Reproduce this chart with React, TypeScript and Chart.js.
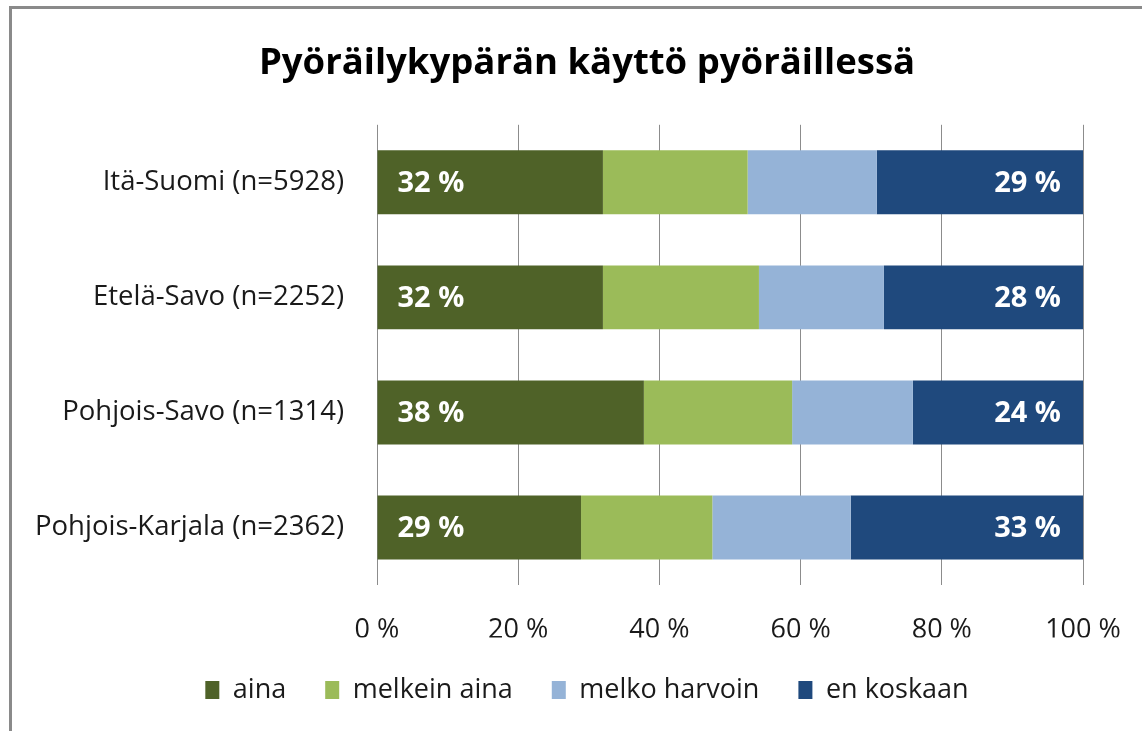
import React, { useEffect, useRef } from "react";
import { Chart, registerables } from "chart.js";

Chart.register(...registerables);

const categories = [
  "Itä-Suomi (n=5928)",
  "Etelä-Savo (n=2252)",
  "Pohjois-Savo (n=1314)",
  "Pohjois-Karjala (n=2362)",
];
const seriesNames = ["aina", "melkein aina", "melko harvoin", "en koskaan"];
const aina = [32.0, 32.0, 37.8, 28.9];
const melkeinAina = [20.5, 22.1, 21.0, 18.6];
const melkoHarvoin = [18.3, 17.7, 17.1, 19.6];
const enKoskaan = [29.2, 28.2, 24.1, 32.9];
const xTickLabels = ["0 %", "20 %", "40 %", "60 %", "80 %", "100 %"];
const colors = ["#4F6228", "#9BBB59", "#95B3D7", "#1F497D"];
const labelledSeries = [0, 3];
const title = "Pyöräilykypärän käyttö pyöräillessä";

const FONT = "'Open Sans', 'Noto Sans', sans-serif";

const barLabels = {
  id: "barLabels",
  afterDatasetsDraw(chart: any) {
    const ctx = chart.ctx;
    ctx.save();
    ctx.font = `bold 29px ${FONT}`;
    ctx.fillStyle = "#ffffff";
    ctx.textBaseline = "middle";
    labelledSeries.forEach((di) => {
      const meta = chart.getDatasetMeta(di);
      const ds = chart.data.datasets[di];
      meta.data.forEach((bar: any, i: number) => {
        const { x, y, base } = bar.getProps(["x", "y", "base"], true);
        const text = Math.round(ds.data[i]) + " %";
        if (di === 0) {
          ctx.textAlign = "left";
          ctx.fillText(text, Math.min(x, base) + 20, y + 1);
        } else {
          ctx.textAlign = "right";
          ctx.fillText(text, Math.max(x, base) - 22, y + 1);
        }
      });
    });
    ctx.restore();
  },
};

export default function App() {
  const ref = useRef<HTMLCanvasElement | null>(null);
  useEffect(() => {
    if (!ref.current) return;
    const values = [aina, melkeinAina, melkoHarvoin, enKoskaan];
    const chart = new Chart(ref.current, {
      type: "bar",
      data: {
        labels: categories,
        datasets: values.map((v, i) => ({
          label: seriesNames[i],
          data: v,
          backgroundColor: colors[i],
          borderWidth: 0,
          barPercentage: 0.556,
          categoryPercentage: 1,
        })),
      },
      options: {
        indexAxis: "y",
        responsive: false,
        animation: false,
        layout: { padding: { top: 0, left: 0, right: 0, bottom: 17.5 } },
        scales: {
          x: {
            stacked: true,
            min: 0,
            max: 100,
            ticks: {
              stepSize: 20,
              padding: 29,
              color: "#1a1a1a",
              font: { family: FONT, size: 27 },
              callback: (_v: any, idx: number) => xTickLabels[idx],
            },
            grid: { color: "#8c8c8c", lineWidth: 1, drawTicks: false },
            border: { display: false },
            afterFit: (s: any) => {
              s.height = 52.5;
            },
          },
          y: {
            stacked: true,
            ticks: {
              padding: 25,
              color: "#1a1a1a",
              font: { family: FONT, size: 27.5 },
            },
            grid: { display: false },
            border: { display: false },
            afterFit: (s: any) => {
              s.width = 365;
            },
          },
          yR: {
            type: "category",
            position: "right",
            display: true,
            ticks: { display: false },
            grid: { display: false },
            border: { display: false },
            afterFit: (s: any) => {
              s.width = 79;
            },
          },
        },
        plugins: {
          title: {
            display: true,
            text: title,
            color: "#000",
            font: { family: FONT, size: 36.5, weight: "bold" },
            padding: { top: 33, bottom: 39 },
          },
          legend: {
            position: "bottom",
            labels: {
              boxWidth: 14,
              boxHeight: 18,
              padding: 39,
              color: "#1a1a1a",
              font: { family: FONT, size: 27 },
            },
          },
          tooltip: { enabled: false },
        },
      },
      plugins: [barLabels],
    } as any);
    return () => chart.destroy();
  }, []);

  return (
    <div
      style={{
        position: "fixed",
        left: 0,
        top: 0,
        width: 1142,
        height: 731,
        overflow: "hidden",
        background: "#fff",
      }}
    >
      <canvas
        ref={ref}
        width={1150}
        height={722}
        style={{ position: "absolute", left: 12, top: 9, width: 1150, height: 722 }}
      />
      <div
        style={{
          position: "absolute",
          left: 9,
          top: 6,
          width: 1200,
          height: 800,
          borderTop: "3px solid #8a8a8a",
          borderLeft: "3px solid #8a8a8a",
          pointerEvents: "none",
        }}
      />
    </div>
  );
}
